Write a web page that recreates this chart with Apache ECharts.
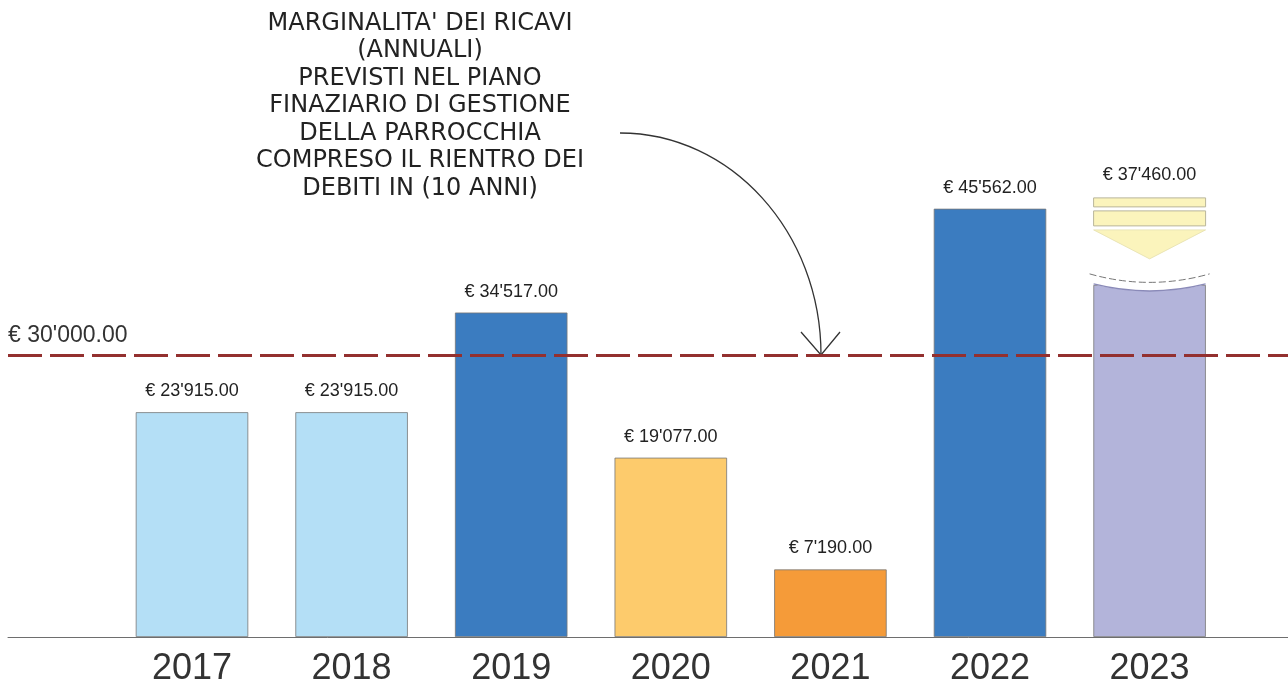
<!DOCTYPE html>
<html>
<head>
<meta charset="utf-8">
<script src="https://cdn.jsdelivr.net/npm/echarts@6/dist/echarts.min.js"></script>
<style>
  html, body { margin: 0; padding: 0; background: #fff; }
  #chart { width: 1288px; height: 688px; }
</style>
</head>
<body>
<div id="chart"></div>
<script>
// dati
const years = ["2017", "2018", "2019", "2020", "2021", "2022", "2023"];
const values = [23915, 23915, 34517, 19077, 7190, 45562, 37460];
const barColors = ["#b4dff6", "#b4dff6", "#3b7cc0", "#fdcb6c", "#f59b39", "#3b7cc0", "#b3b4da"];
const threshold = 30000;
const forecastIndex = 6; // 2023 = previsione
const noteLines = [
  "MARGINALITA' DEI RICAVI",
  "(ANNUALI)",
  "PREVISTI NEL PIANO",
  "FINAZIARIO DI GESTIONE",
  "DELLA PARROCCHIA",
  "COMPRESO IL RIENTRO DEI",
  "DEBITI IN (10 ANNI)",
];

const FONT = "'Liberation Sans', Arial, sans-serif";

/** formato euro con apostrofo */
function euro(v) {
  const s = Math.round(v).toString().replace(/\B(?=(\d{3})+(?!\d))/g, "'");
  return "€ " + s + ".00";
}

const chart = echarts.init(document.getElementById("chart"));

// disegna la barra 2023 "in previsione": testa curva + freccia gialla
function renderForecast(params, api) {
  const pt = api.coord([api.value(0), api.value(1)]);
  const half = 56;
  const cx = pt[0];
  const x0 = cx - half;
  const x1 = cx + half;
  const top = pt[1];
  const yellow = { fill: "#fbf4bc", stroke: "#b9b59a", lineWidth: 1 };
  return {
    type: "group",
    children: [
      {
        type: "path",
        shape: {
          pathData:
            "M" + (x0 - 2) + " " + (top - 2) +
            " L" + (x1 + 2) + " " + (top - 2) +
            " L" + (x1 + 2) + " " + (top - 1) +
            " Q" + cx + " " + (top + 13) + " " + (x0 - 2) + " " + (top - 1) + " Z",
        },
        style: { fill: "#fff", stroke: null },
      },
      {
        type: "bezierCurve",
        shape: { x1: x0, y1: top - 1, cpx1: cx, cpy1: top + 13, x2: x1, y2: top - 1 },
        style: { fill: null, stroke: "#8a8ab8", lineWidth: 1.5 },
      },
      {
        type: "bezierCurve",
        shape: { x1: x0 - 4, y1: top - 11, cpx1: cx, cpy1: top + 6, x2: x1 + 4, y2: top - 11 },
        style: { fill: null, stroke: "#777", lineWidth: 1, lineDash: [7, 3] },
      },
      {
        type: "polygon",
        shape: { points: [[x0, top - 55], [x1, top - 55], [cx, top - 26]] },
        style: { fill: "#fbf4bc", stroke: "#e4dfb0", lineWidth: 0.8 },
      },
      {
        type: "rect",
        shape: { x: x0, y: top - 74, width: half * 2, height: 15 },
        style: yellow,
      },
      {
        type: "rect",
        shape: { x: x0, y: top - 87, width: half * 2, height: 9 },
        style: yellow,
      },
      {
        type: "text",
        style: {
          text: euro(api.value(1)),
          x: cx,
          y: top - 110,
          align: "center",
          verticalAlign: "middle",
          fill: "#222",
          font: "18px " + FONT,
        },
      },
    ],
  };
}

const option = {
  backgroundColor: "#fff",
  animation: false,
  grid: [
    { left: 8, right: 0, top: 73, bottom: 51 },
    { left: 112.2, right: 58.6, top: 73, bottom: 51 },
  ],
  xAxis: [
    {
      gridIndex: 0,
      type: "value",
      min: 0,
      max: 1,
      axisLine: { show: true, lineStyle: { color: "#6e6e6e", width: 1 } },
      axisTick: { show: false },
      axisLabel: { show: false },
      splitLine: { show: false },
    },
    {
      gridIndex: 1,
      type: "category",
      data: years,
      axisLine: { show: false },
      axisTick: { show: false },
      axisLabel: { fontSize: 36, color: "#333", fontFamily: FONT, margin: 14 },
    },
  ],
  yAxis: [
    { gridIndex: 0, type: "value", min: 0, max: 60000, show: false },
    { gridIndex: 1, type: "value", min: 0, max: 60000, show: false },
  ],
  graphic: [
    {
      type: "text",
      style: {
        text: noteLines.join("\n"),
        x: 420,
        y: 10,
        align: "center",
        verticalAlign: "top",
        lineHeight: 27.5,
        fill: "#222",
        font: "24px 'DejaVu Sans', sans-serif",
      },
    },
    {
      type: "bezierCurve",
      shape: { x1: 620, y1: 133, cpx1: 731, cpy1: 133, cpx2: 821, cpy2: 232, x2: 821, y2: 355 },
      style: { fill: null, stroke: "#333", lineWidth: 1.3 },
    },
    {
      type: "polyline",
      shape: { points: [[801, 332], [821, 355], [840, 332]] },
      style: { fill: null, stroke: "#333", lineWidth: 1.3 },
    },
  ],
  series: [
    {
      // linea soglia 30'000 su tutta la larghezza
      type: "line",
      xAxisIndex: 0,
      yAxisIndex: 0,
      data: [],
      markLine: {
        silent: true,
        symbol: ["none", "none"],
        data: [{ yAxis: threshold }],
        lineStyle: { color: "#93302f", width: 3, type: [34, 8] },
        label: {
          position: "insideStartTop",
          formatter: euro(threshold),
          fontSize: 23,
          color: "#333",
          fontFamily: FONT,
          distance: [0, 8],
        },
      },
    },
    {
      type: "bar",
      xAxisIndex: 1,
      yAxisIndex: 1,
      barWidth: 112.5,
      data: values.map((v, i) => ({
        value: v,
        itemStyle: { color: barColors[i] },
        label: { show: i !== forecastIndex },
      })),
      itemStyle: { borderColor: "#777", borderWidth: 0.8 },
      label: {
        show: true,
        position: "top",
        distance: 12,
        fontSize: 18,
        color: "#222",
        fontFamily: FONT,
        formatter: (p) => euro(p.value),
      },
    },
    {
      type: "custom",
      xAxisIndex: 1,
      yAxisIndex: 1,
      z: 5,
      data: [[forecastIndex, values[forecastIndex]]],
      encode: { x: 0, y: 1 },
      renderItem: renderForecast,
    },
  ],
};

chart.setOption(option);
</script>
</body>
</html>
